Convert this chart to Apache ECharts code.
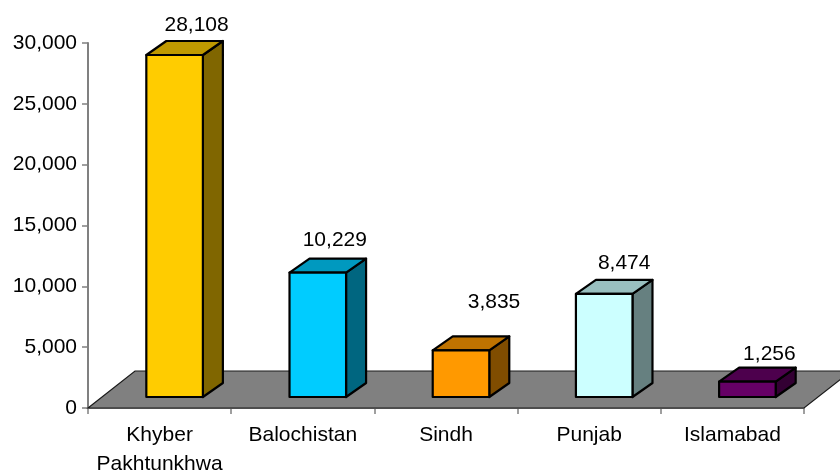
<!DOCTYPE html>
<html>
<head>
<meta charset="utf-8">
<style>html,body{margin:0;padding:0;background:#fff}#c{width:840px;height:473px}</style>
<script src="https://cdn.jsdelivr.net/npm/echarts@6/dist/echarts.min.js"></script>
</head>
<body>
<div id="c"></div>
<script>
const categories = ['Khyber\nPakhtunkhwa', 'Balochistan', 'Sindh', 'Punjab', 'Islamabad'];
const values = [28108, 10229, 3835, 8474, 1256];
const yTicks = { min: 0, max: 30000, interval: 5000 };

const frontColors = ['#FFCC00', '#00CCFF', '#FF9900', '#CCFFFF', '#660066'];
const topColors   = ['#BF9900', '#0099BF', '#BF7300', '#99BFBF', '#4D004D'];
const sideColors  = ['#806600', '#006680', '#804D00', '#668080', '#330033'];
const labelShift  = [[22, -16], [17, -18], [33, -34], [20, -17], [22, -14]];

const FONT = '"Liberation Sans", Arial, sans-serif';
const FONT_SIZE = 21;
const DEPTH_X = 20, DEPTH_Y = 14;      // bar depth projection
const BASE_X = 15, BASE_Y = 11;        // bar foot offset on the floor
const FLOOR_X = 47, FLOOR_Y = 37;      // floor depth projection
const BAR_RATIO = 0.395;

function renderFloor(params) {
  const r = params.coordSys;
  const b = r.y + r.height, x0 = r.x, x1 = r.x + r.width;
  return {
    type: 'polygon',
    shape: { points: [[x0, b], [x0 + FLOOR_X, b - FLOOR_Y], [x1 + FLOOR_X, b - FLOOR_Y], [x1, b]] },
    style: { fill: '#808080', stroke: '#1a1a1a', lineWidth: 1.2 }
  };
}

function renderBar(params, api) {
  const i = params.dataIndex;
  const top = api.coord([i, api.value(1)]);
  const base = api.coord([i, 0]);
  const w = api.size([1, 0])[0] * BAR_RATIO;
  const l = top[0] - w / 2 + BASE_X, r = l + w;
  const t = top[1] - BASE_Y, b = base[1] - BASE_Y;
  const edge = { stroke: '#000', lineWidth: 2.2, lineJoin: 'round' };
  return {
    type: 'group',
    children: [
      { type: 'polygon', shape: { points: [[r, t], [r + DEPTH_X, t - DEPTH_Y], [r + DEPTH_X, b - DEPTH_Y], [r, b]] },
        style: Object.assign({ fill: sideColors[i] }, edge) },
      { type: 'polygon', shape: { points: [[l, t], [l + DEPTH_X, t - DEPTH_Y], [r + DEPTH_X, t - DEPTH_Y], [r, t]] },
        style: Object.assign({ fill: topColors[i] }, edge) },
      { type: 'polygon', shape: { points: [[l, t], [r, t], [r, b], [l, b]] },
        style: Object.assign({ fill: frontColors[i] }, edge) },
      { type: 'text',
        style: {
          x: (l + r) / 2 + labelShift[i][0], y: t - DEPTH_Y + labelShift[i][1],
          text: api.value(1).toLocaleString('en-US'),
          fill: '#000', font: FONT_SIZE + 'px ' + FONT, align: 'center', verticalAlign: 'middle'
        } }
    ]
  };
}

const chart = echarts.init(document.getElementById('c'), null, { renderer: 'canvas' });
chart.setOption({
  animation: false,
  backgroundColor: '#fff',
  grid: { left: 88, top: 43, width: 716, height: 365, containLabel: false, outerBoundsMode: 'none' },
  xAxis: {
    type: 'category',
    data: categories,
    axisLine: { lineStyle: { color: '#808080', width: 1 } },
    axisTick: { show: true, alignWithLabel: false, length: 6, lineStyle: { color: '#808080', width: 1.5 } },
    axisLabel: { color: '#000', fontFamily: FONT, fontSize: FONT_SIZE, margin: 13, lineHeight: 29, interval: 0 },
    splitLine: { show: false }
  },
  yAxis: {
    type: 'value',
    min: yTicks.min, max: yTicks.max, interval: yTicks.interval,
    axisLine: { show: true, lineStyle: { color: '#808080', width: 2 } },
    axisTick: { show: true, length: 6, lineStyle: { color: '#808080', width: 1.5 } },
    axisLabel: {
      color: '#000', fontFamily: FONT, fontSize: FONT_SIZE, margin: 11,
      formatter: v => v.toLocaleString('en-US')
    },
    splitLine: { show: false }
  },
  series: [
    { type: 'custom', renderItem: renderFloor, data: [[0, 0]], clip: false, silent: true, z: 1 },
    { type: 'custom', renderItem: renderBar, data: values.map((v, i) => [i, v]),
      encode: { x: 0, y: 1 }, clip: false, z: 3 }
  ]
});
</script>
</body>
</html>
